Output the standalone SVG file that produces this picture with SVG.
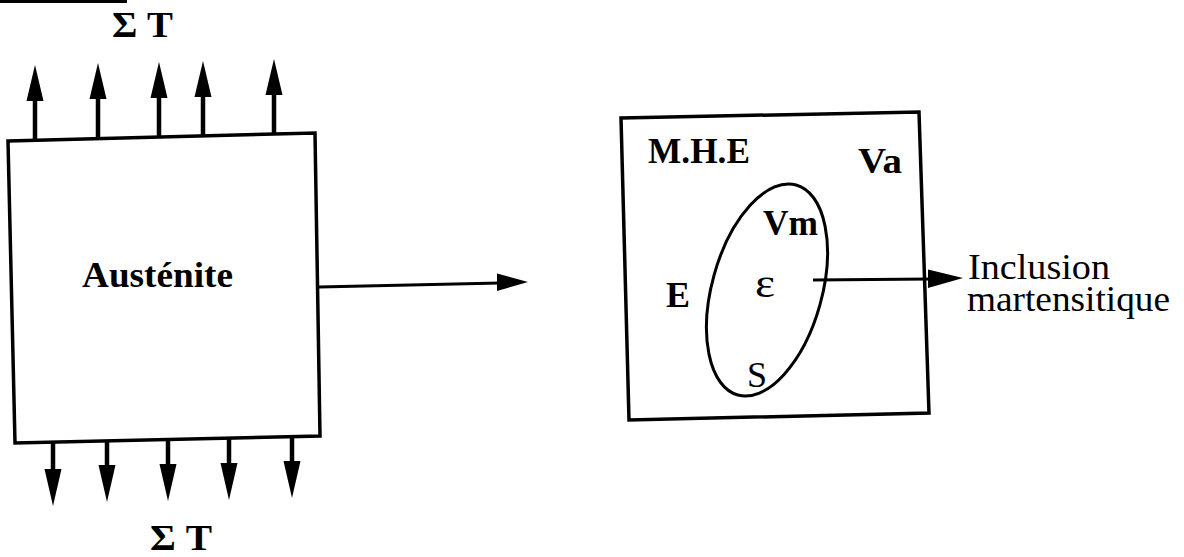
<svg xmlns="http://www.w3.org/2000/svg" width="1184" height="557" viewBox="0 0 1184 557">
<style>
.box{fill:none;stroke:#000;stroke-width:3.5;stroke-linejoin:miter}
.sh{stroke:#000;stroke-width:4.5;fill:none}
.thin{stroke:#000;stroke-width:3;fill:none}
.ah{fill:#000;stroke:none}
.b{font-family:"Liberation Serif","Times New Roman",serif;font-weight:bold;fill:#000}
.r{font-family:"Liberation Serif","Times New Roman",serif;font-weight:normal;fill:#000}
</style>
<defs>
<path id="ahUp" d="M0,0 L-8.5,36 L8.5,36 Z"/>
<path id="ahDown" d="M0,0 L-8.5,-37 L8.5,-37 Z"/>
</defs>
<rect width="1184" height="557" fill="#fff"/>
<line x1="0" y1="1.5" x2="127" y2="1.5" stroke="#000" stroke-width="3"/>

<g id="austenite">
<polygon class="box" points="8,141 315,133 320,436 15,443"/>
<text class="b" x="82" y="287" font-size="36" textLength="151" lengthAdjust="spacingAndGlyphs">Austénite</text>
</g>

<g id="load-top">
<text class="b" x="112" y="37" font-size="36" textLength="61" lengthAdjust="spacingAndGlyphs">Σ T</text>
<g class="ah">
<use href="#ahUp" x="35" y="65"/>
<use href="#ahUp" x="98" y="63"/>
<use href="#ahUp" x="159" y="62"/>
<use href="#ahUp" x="203" y="61"/>
<use href="#ahUp" x="274" y="59"/>
</g>
</g>

<g id="load-bottom">
<text class="b" x="150" y="550" font-size="35" textLength="62" lengthAdjust="spacingAndGlyphs">Σ T</text>
<g class="ah">
<use href="#ahDown" x="53" y="506"/>
<use href="#ahDown" x="107" y="502"/>
<use href="#ahDown" x="168" y="501"/>
<use href="#ahDown" x="229" y="500"/>
<use href="#ahDown" x="292" y="498"/>
</g>
</g>

<g id="mhe">
<polygon class="box" points="621,118 919,112 929,413 629,420"/>
<text class="b" x="648" y="163" font-size="36" textLength="102" lengthAdjust="spacingAndGlyphs">M.H.E</text>
<text class="b" x="858" y="173" font-size="36" textLength="44" lengthAdjust="spacingAndGlyphs">Va</text>
<text class="b" x="666" y="307" font-size="36">E</text>
</g>

<g id="inclusion">
<ellipse class="thin" cx="767" cy="290" rx="55" ry="109" transform="rotate(15.5 767 290)"/>
<text class="b" x="763" y="235" font-size="36" textLength="55" lengthAdjust="spacingAndGlyphs">Vm</text>
<text class="r" x="755" y="297" font-size="40" textLength="20" lengthAdjust="spacingAndGlyphs">ε</text>
<text class="r" x="747" y="387" font-size="36">S</text>
</g>

<g id="label-inclusion">
<text class="r" x="968" y="279" font-size="35" textLength="142" lengthAdjust="spacingAndGlyphs">Inclusion</text>
<text class="r" x="967" y="311" font-size="35" textLength="203" lengthAdjust="spacingAndGlyphs">martensitique</text>
</g>

<g id="connectors">
<g class="sh">
<line x1="35" y1="139" x2="35" y2="95"/>
<line x1="98" y1="138" x2="98" y2="93"/>
<line x1="159" y1="137" x2="159" y2="92"/>
<line x1="203" y1="136" x2="203" y2="91"/>
<line x1="274" y1="134" x2="274" y2="89"/>
<line x1="53" y1="443" x2="53" y2="472"/>
<line x1="107" y1="442" x2="107" y2="470"/>
<line x1="168" y1="440" x2="168" y2="469"/>
<line x1="229" y1="439" x2="229" y2="468"/>
<line x1="292" y1="437" x2="292" y2="466"/>
</g>
<line class="thin" x1="319" y1="287" x2="500" y2="283"/>
<path class="ah" d="M528,282 L497,273.5 L497,291 Z"/>
<line class="thin" x1="813" y1="280" x2="931" y2="279"/>
<path class="ah" d="M963,278 L928,269.5 L928,288 Z"/>
</g>
</svg>
